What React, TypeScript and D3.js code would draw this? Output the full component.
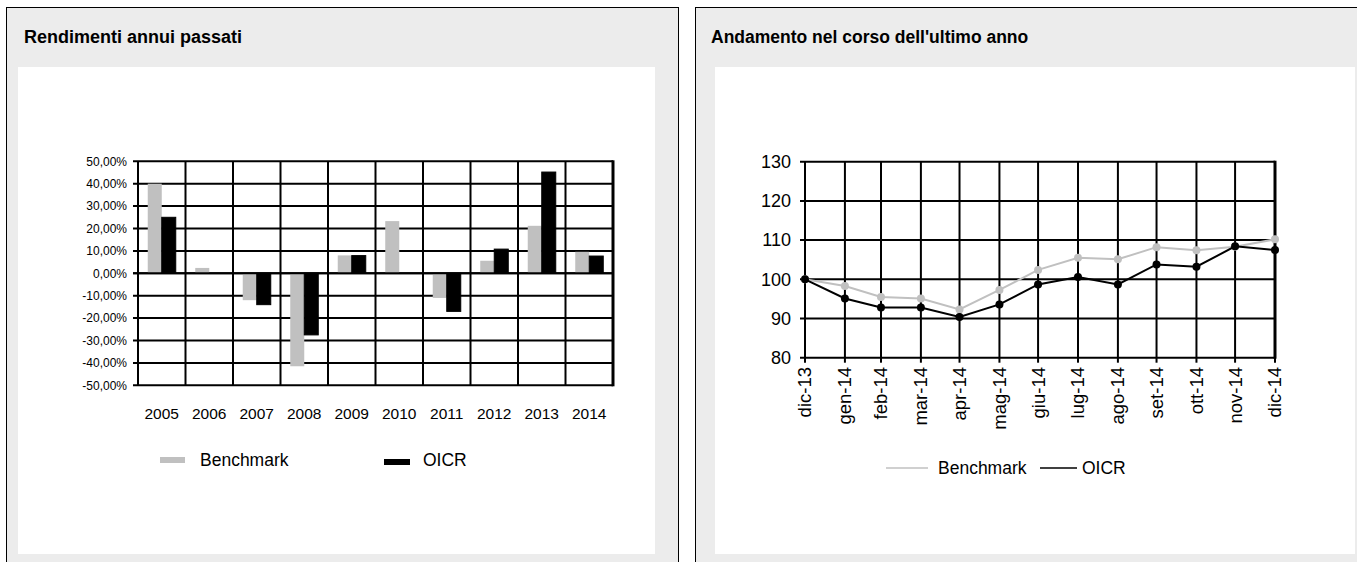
import React from 'react';
import * as d3 from 'd3';

const years = ['2005', '2006', '2007', '2008', '2009', '2010', '2011', '2012', '2013', '2014'];
const benchmarkReturns = [40, 2.4, -12, -41.5, 8, 23.3, -11, 5.6, 21.2, 9.6];
const oicrReturns = [25, 0, -14, -27.5, 7.9, 0, -17, 10.8, 45.2, 7.7];
const returnTicks = [-50, -40, -30, -20, -10, 0, 10, 20, 30, 40, 50];

const monthLabels = ['dic-13', 'gen-14', 'feb-14', 'mar-14', 'apr-14', 'mag-14', 'giu-14', 'lug-14', 'ago-14', 'set-14', 'ott-14', 'nov-14', 'dic-14'];
const monthEnds = ['2013-12-31', '2014-01-31', '2014-02-28', '2014-03-31', '2014-04-30', '2014-05-31', '2014-06-30', '2014-07-31', '2014-08-31', '2014-09-30', '2014-10-31', '2014-11-30', '2014-12-31'];
const benchmarkIndex = [100, 98.3, 95.5, 95.1, 92.3, 97.3, 102.4, 105.5, 105.1, 108.2, 107.4, 108.3, 110.2];
const oicrIndex = [100, 95.1, 92.8, 92.8, 90.4, 93.6, 98.7, 100.6, 98.7, 103.8, 103.2, 108.4, 107.5];
const indexTicks = [80, 90, 100, 110, 120, 130];

const FONT = '"Liberation Sans", Arial, Helvetica, sans-serif';
const GRAY = '#c0c0c0';
const PANEL = '#ececec';

const fmtPct = (v: number) => v.toFixed(2).replace('.', ',') + '%';

function LeftChart() {
  const x = d3.scaleBand<string>().domain(years).range([138, 613]).paddingInner(0).paddingOuter(0);
  const y = d3.scaleLinear().domain([-50, 50]).range([385.3, 161.3]);
  const bw = 14;
  return (
    <g>
      {returnTicks.map((t) => (
        <g key={'h' + t}>
          <line x1={133} x2={613} y1={y(t)} y2={y(t)} stroke="#000" strokeWidth={2} />
          <text x={127} y={y(t)} dy="0.35em" textAnchor="end" fontSize={12} fontFamily={FONT} fill="#000">
            {fmtPct(t)}
          </text>
        </g>
      ))}
      {years.map((yr) => (
        <line key={'v' + yr} x1={x(yr)!} x2={x(yr)!} y1={y(50)} y2={y(-50)} stroke="#000" strokeWidth={2} />
      ))}
      <line x1={613} x2={613} y1={y(50) - 1} y2={y(-50) + 1} stroke="#000" strokeWidth={3} />
      {years.map((yr, i) => {
        const c = x(yr)! + x.bandwidth() / 2;
        const b = benchmarkReturns[i];
        const o = oicrReturns[i];
        return (
          <g key={'b' + yr}>
            {b !== 0 && (
              <rect x={c - bw} width={bw} y={Math.min(y(b), y(0))} height={Math.abs(y(b) - y(0))} fill={GRAY} />
            )}
            {o !== 0 && (
              <rect x={c} width={bw} y={Math.min(y(o), y(0))} height={Math.abs(y(o) - y(0))} fill="#000" stroke="#000" strokeWidth={1} />
            )}
          </g>
        );
      })}
      <line x1={133} x2={613} y1={y(0)} y2={y(0)} stroke="#000" strokeWidth={2} />
      {years.map((yr) => (
        <text key={'t' + yr} x={x(yr)! + x.bandwidth() / 2} y={419} textAnchor="middle" fontSize={15.5} fontFamily={FONT} fill="#000">
          {yr}
        </text>
      ))}
      <rect x={160} y={457} width={25} height={6} fill={GRAY} />
      <text x={200} y={466} fontSize={17.5} fontFamily={FONT} fill="#000">Benchmark</text>
      <rect x={384} y={459} width={26} height={6} fill="#000" />
      <text x={423} y={466} fontSize={17.5} fontFamily={FONT} fill="#000">OICR</text>
    </g>
  );
}

function RightChart() {
  const dates = monthEnds.map((d) => new Date(d + 'T00:00:00'));
  const x = d3.scaleTime().domain([dates[0], dates[dates.length - 1]]).range([805, 1275]);
  const y = d3.scaleLinear().domain([80, 130]).range([357.7, 161.7]);
  const line = d3
    .line<number>()
    .x((_, i) => x(dates[i]))
    .y((v) => y(v));
  return (
    <g>
      {indexTicks.map((t) => (
        <g key={'h' + t}>
          <line x1={800} x2={1275} y1={y(t)} y2={y(t)} stroke="#000" strokeWidth={2} />
          <text x={791} y={y(t)} dy="0.35em" textAnchor="end" fontSize={18} fontFamily={FONT} fill="#000">
            {t}
          </text>
        </g>
      ))}
      {dates.map((d, i) => (
        <g key={'v' + i}>
          <line x1={x(d)} x2={x(d)} y1={y(130)} y2={y(80) + 5} stroke="#000" strokeWidth={2} />
          <text
            transform={`translate(${x(d)},${367}) rotate(-90)`}
            dy="0.35em"
            textAnchor="end"
            fontSize={18.5}
            fontFamily={FONT}
            fill="#000"
          >
            {monthLabels[i]}
          </text>
        </g>
      ))}
      <line x1={1275} x2={1275} y1={y(130) - 1} y2={y(80) + 1} stroke="#000" strokeWidth={3} />
      <path d={line(benchmarkIndex) || ''} fill="none" stroke={GRAY} strokeWidth={2} />
      {benchmarkIndex.map((v, i) => (
        <circle key={'bc' + i} cx={x(dates[i])} cy={y(v)} r={4} fill={GRAY} />
      ))}
      <path d={line(oicrIndex) || ''} fill="none" stroke="#000" strokeWidth={2} />
      {oicrIndex.map((v, i) => (
        <circle key={'oc' + i} cx={x(dates[i])} cy={y(v)} r={4} fill="#000" />
      ))}
      <line x1={886} x2={928} y1={468} y2={468} stroke={GRAY} strokeWidth={1.5} />
      <text x={938} y={474} fontSize={17.5} fontFamily={FONT} fill="#000">Benchmark</text>
      <line x1={1040} x2={1077} y1={468} y2={468} stroke="#000" strokeWidth={1.5} />
      <text x={1082} y={474} fontSize={17.5} fontFamily={FONT} fill="#000">OICR</text>
    </g>
  );
}

export default function App() {
  return (
    <>
      <style>{`body{margin:0;}`}</style>
      <svg width={1357} height={562} style={{ display: 'block' }}>
        <rect x={0} y={0} width={1357} height={562} fill="#fff" />
        <rect x={6.5} y={7.5} width={672} height={570} fill={PANEL} stroke="#000" strokeWidth={1} />
        <rect x={18} y={67} width={637} height={487} fill="#fff" />
        <text x={24} y={43} fontSize={18} fontWeight="bold" fontFamily={FONT} fill="#000">
          Rendimenti annui passati
        </text>
        <rect x={695.5} y={7.5} width={700} height={570} fill={PANEL} stroke="#000" strokeWidth={1} />
        <rect x={715} y={67} width={640} height={487} fill="#fff" />
        <text x={711} y={43} fontSize={17.5} fontWeight="bold" fontFamily={FONT} fill="#000">
          Andamento nel corso dell'ultimo anno
        </text>
        <LeftChart />
        <RightChart />
      </svg>
    </>
  );
}
